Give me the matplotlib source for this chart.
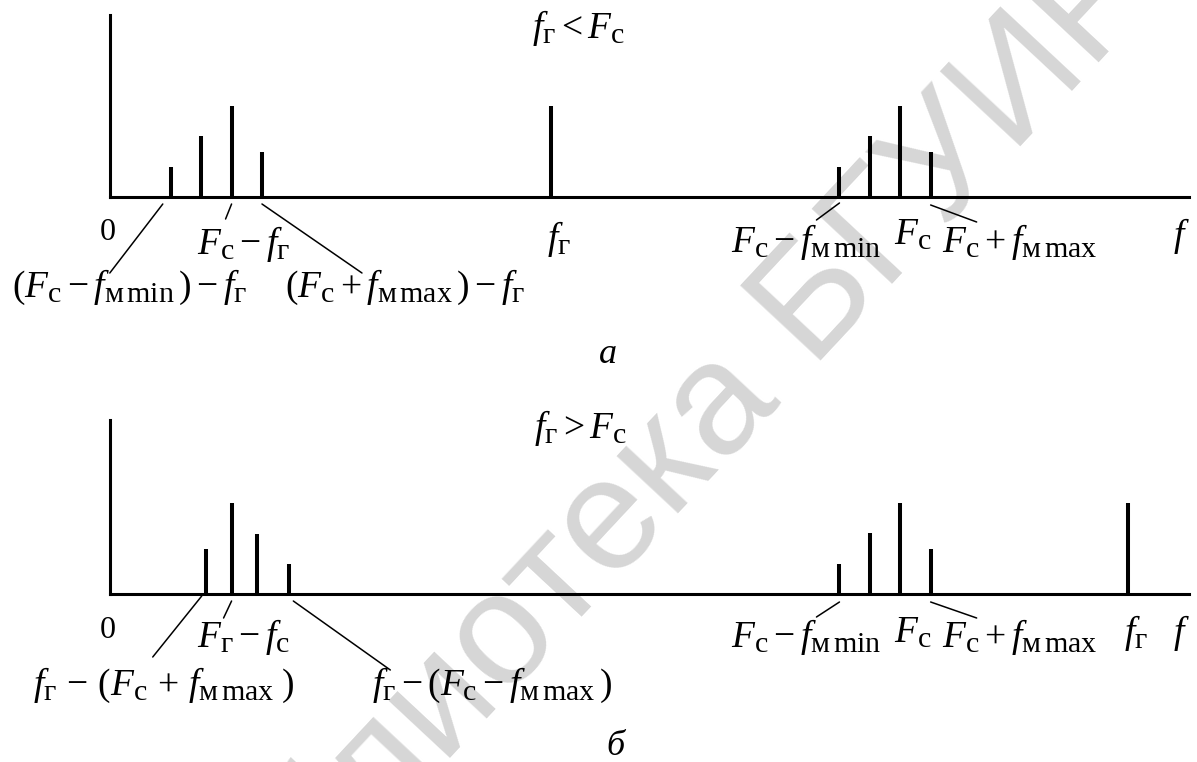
import matplotlib
matplotlib.use('Agg')
import matplotlib.pyplot as plt
import matplotlib._mathtext as mathtext_core
from matplotlib.transforms import offset_copy

plt.rcParams['font.family'] = 'Liberation Serif'
plt.rcParams['mathtext.fontset'] = 'custom'
plt.rcParams['mathtext.rm'] = 'Liberation Serif'
plt.rcParams['mathtext.it'] = 'Liberation Serif:italic'
plt.rcParams['mathtext.bf'] = 'Liberation Serif:bold'
# larger indices, closer to typical equation-editor output
mathtext_core.SHRINK_FACTOR = 0.8

# spectrum components (frequency in arbitrary units, amplitude relative to carrier)
f_end = 35.5

# case a: f_г < F_c
a_low_f = [2.0, 3.0, 4.0, 5.0]
a_low_amp = [0.33, 0.67, 1.0, 0.49]
a_het_f = 14.5
a_het_amp = 1.0
a_sig_f = [24.0, 25.0, 26.0, 27.0]
a_sig_amp = [0.33, 0.67, 1.0, 0.49]
a_ymax = 2.0

# case б: f_г > F_c
b_low_f = [3.15, 4.0, 4.85, 5.9]
b_low_amp = [0.49, 1.0, 0.66, 0.33]
b_het_f = 33.5
b_het_amp = 1.0
b_sig_f = [24.0, 25.0, 26.0, 27.0]
b_sig_amp = [0.33, 0.67, 1.0, 0.49]
b_ymax = 1.91

c = r'\mathrm{с}'
g = r'\mathrm{г}'
mmin = r'\mathrm{м\,min}'
mmax = r'\mathrm{м\,max}'

W, H = 1197, 762
fig = plt.figure(figsize=(W / 100, H / 100), dpi=100)

# watermark
fig.text(0.54, 0.36, 'Библиотека БГУИР', family='Liberation Sans', fontsize=115,
         color='#d6d6d6', rotation=47, rotation_mode='anchor',
         ha='center', va='center', zorder=-1)

ax_a = fig.add_axes([110 / W, (H - 197) / H, 1079 / W, 182 / H])
ax_b = fig.add_axes([110 / W, (H - 594) / H, 1079 / W, 174 / H])

for ax, ymax in [(ax_a, a_ymax), (ax_b, b_ymax)]:
    ax.set_xlim(0, f_end)
    ax.set_ylim(0, ymax)
    ax.patch.set_visible(False)
    ax.spines[['top', 'right']].set_visible(False)
    for s in ['left', 'bottom']:
        ax.spines[s].set_linewidth(2.2)
    ax.set_xticks([])
    ax.set_yticks([])

stem = dict(color='black', linewidth=2.9)
ax_a.vlines(a_low_f, 0, a_low_amp, **stem)
ax_a.vlines(a_het_f, 0, a_het_amp, **stem)
ax_a.vlines(a_sig_f, 0, a_sig_amp, **stem)
ax_b.vlines(b_low_f, 0, b_low_amp, **stem)
ax_b.vlines(b_het_f, 0, b_het_amp, **stem)
ax_b.vlines(b_sig_f, 0, b_sig_amp, **stem)

FS = 27


def label(ax, f, s, dx, dy, size=FS, ha='left'):
    ax.annotate(s, xy=(f, 0), xytext=(dx, dy), textcoords='offset pixels',
                ha=ha, va='baseline', fontsize=size, annotation_clip=False)


def leader(ax, f, p0, p1):
    tr = offset_copy(ax.transData, fig=fig, x=p0[0], y=p0[1], units='dots')
    ax.annotate('', xy=(f, 0), xycoords=tr,
                xytext=(p1[0] - p0[0], p1[1] - p0[1]), textcoords='offset pixels',
                arrowprops=dict(arrowstyle='-', lw=1.1, color='black',
                                shrinkA=0, shrinkB=0),
                annotation_clip=False)


# --- case a ---
label(ax_a, 0, '0', -2, -43, size=23, ha='center')
label(ax_a, a_low_f[2], rf'$F_{c}-f_{g}$', -35, -57)
label(ax_a, a_low_f[0], rf'$(F_{c}-f_{{{mmin}}}\,)-f_{g}$', -159, -100)
label(ax_a, a_low_f[3], rf'$(F_{c}+f_{{{mmax}}}\,)-f_{g}$', 23, -100)
label(ax_a, a_het_f, rf'$f_{g}$', -4, -52)
label(ax_a, a_sig_f[0], rf'$F_{c}-f_{{{mmin}}}$', -108, -55)
label(ax_a, a_sig_f[2], rf'$F_{c}$', -6, -48)
label(ax_a, a_sig_f[3], rf'$F_{c}+f_{{{mmax}}}$', 11, -55)
label(ax_a, f_end, r'$f$', -16, -49)
ax_a.text(0.434, 0.874, rf'$f_{g}<F_{c}$', transform=ax_a.transAxes,
          ha='center', va='baseline', fontsize=FS)

leader(ax_a, a_low_f[0], (-8, -7), (-61, -76))
leader(ax_a, a_low_f[2], (0, -7), (-6, -22))
leader(ax_a, a_low_f[3], (0, -7), (100, -76))
leader(ax_a, a_sig_f[0], (0, -6), (-23, -23))
leader(ax_a, a_sig_f[3], (0, -8), (46, -25))

# --- case б ---
label(ax_b, 0, '0', -2, -44, size=23, ha='center')
label(ax_b, b_low_f[1], rf'$F_{g}-f_{c}$', -35, -53)
label(ax_b, b_low_f[0], rf'$f_{g}\,-\,(F_{c}\,+\,f_{{{mmax}}}\;)$', -173, -101)
label(ax_b, b_low_f[3], rf'$f_{g}-(F_{c}-f_{{{mmax}}}\,)$', 83, -101)
label(ax_b, b_sig_f[0], rf'$F_{c}-f_{{{mmin}}}$', -108, -53)
label(ax_b, b_sig_f[2], rf'$F_{c}$', -6, -49)
label(ax_b, b_sig_f[3], rf'$F_{c}+f_{{{mmax}}}$', 11, -53)
label(ax_b, b_het_f, rf'$f_{g}$', -4, -49)
label(ax_b, f_end, r'$f$', -16, -49)
ax_b.text(0.436, 0.897, rf'$f_{g}>F_{c}$', transform=ax_b.transAxes,
          ha='center', va='baseline', fontsize=FS)

leader(ax_b, b_low_f[0], (-4, -2), (-53, -63))
leader(ax_b, b_low_f[1], (0, -7), (-8, -24))
leader(ax_b, b_low_f[3], (4, -7), (101, -76))
leader(ax_b, b_sig_f[0], (0, -8), (-23, -23))
leader(ax_b, b_sig_f[3], (0, -8), (46, -24))

# panel captions
fig.text(608 / W, (H - 363) / H, 'а', style='italic', fontsize=26, ha='center', va='baseline')
fig.text(615 / W, (H - 755) / H, 'б', style='italic', fontsize=26, ha='center', va='baseline')

fig.savefig('out.png', dpi=100)
